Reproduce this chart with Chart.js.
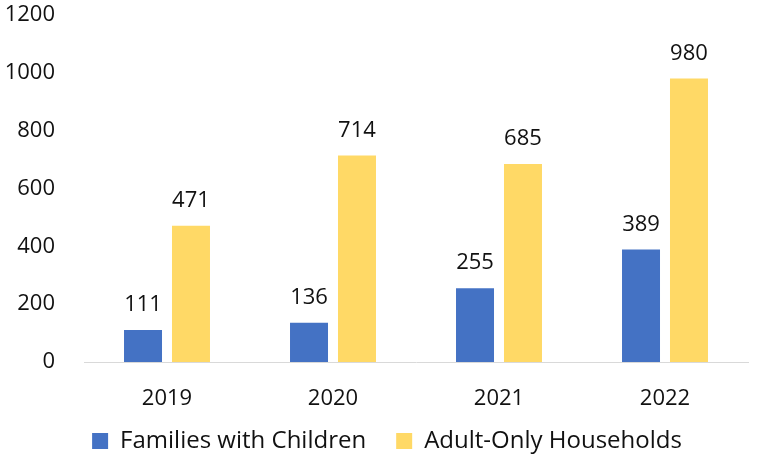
<!DOCTYPE html>
<html>
<head>
<meta charset="utf-8">
<script src="https://cdn.jsdelivr.net/npm/chart.js@4"></script>
<style>
  html, body { margin: 0; padding: 0; background: #fff; }
  #wrap { width: 757px; height: 457px; }
</style>
</head>
<body>
<div id="wrap"><canvas id="chart"></canvas></div>
<script>
var years = ["2019", "2020", "2021", "2022"];
var familiesWithChildren = [111, 136, 255, 389];
var adultOnlyHouseholds = [471, 714, 685, 980];
var yTicks = [0, 200, 400, 600, 800, 1000, 1200];

// value above every bar, like the Excel data labels
var valueLabels = {
    id: "valueLabels",
    afterDatasetsDraw: function(chart) {
        var ctx = chart.ctx;
        ctx.save();
        ctx.font = "22px 'Open Sans'";
        ctx.fillStyle = "#111";
        ctx.textAlign = "center";
        ctx.textBaseline = "alphabetic";
        chart.data.datasets.forEach(function(ds, i) {
            chart.getDatasetMeta(i).data.forEach(function(bar, j) {
                ctx.fillText(ds.data[j], bar.x, bar.y - 19);
            });
        });
        ctx.restore();
    }
};

// move the legend a bit: slightly right and closer to the axis labels
var legendNudge = {
    id: "legendNudge",
    afterLayout: function(chart) {
        var lg = chart.legend;
        lg.top = 399;
        lg.bottom = chart.height;
        lg.left += 13;
        lg.right += 13;
    }
};

new Chart(document.getElementById("chart"), {
    type: "bar",
    data: {
        labels: years,
        datasets: [
            { label: "Families with Children", data: familiesWithChildren, backgroundColor: "#4472C4" },
            { label: "Adult-Only Households", data: adultOnlyHouseholds, backgroundColor: "#FFD966" }
        ]
    },
    options: {
        responsive: true,
        maintainAspectRatio: false,
        animation: false,
        devicePixelRatio: 1,
        categoryPercentage: 0.578,
        barPercentage: 0.792,
        layout: { padding: { top: 0, right: 9, left: 0, bottom: 0 } },
        scales: {
            x: {
                grid: { display: false, drawTicks: false },
                border: { display: true, color: "#d9d9d9", width: 1 },
                afterFit: function(scale) { scale.height = 52; },
                ticks: { color: "#111", font: { family: "Open Sans", size: 22 }, padding: 24 }
            },
            y: {
                min: 0,
                max: 1200,
                afterBuildTicks: function(scale) {
                    scale.ticks = yTicks.map(function(v) { return { value: v }; });
                },
                afterFit: function(scale) {
                    scale.width = 84;
                    scale.paddingTop = 15;
                    scale.paddingBottom = 0;
                },
                grid: { display: false, drawTicks: false },
                border: { display: false },
                ticks: {
                    color: "#111",
                    font: { family: "Open Sans", size: 22 },
                    padding: 29,
                    callback: function(v) { return String(v); }
                }
            }
        },
        plugins: {
            legend: {
                position: "bottom",
                maxHeight: 43,
                labels: {
                    color: "#111",
                    font: { family: "Open Sans", size: 24 },
                    boxWidth: 16,
                    boxHeight: 16,
                    padding: 30
                }
            },
            tooltip: { enabled: false }
        }
    },
    plugins: [valueLabels, legendNudge]
});
</script>
</body>
</html>
